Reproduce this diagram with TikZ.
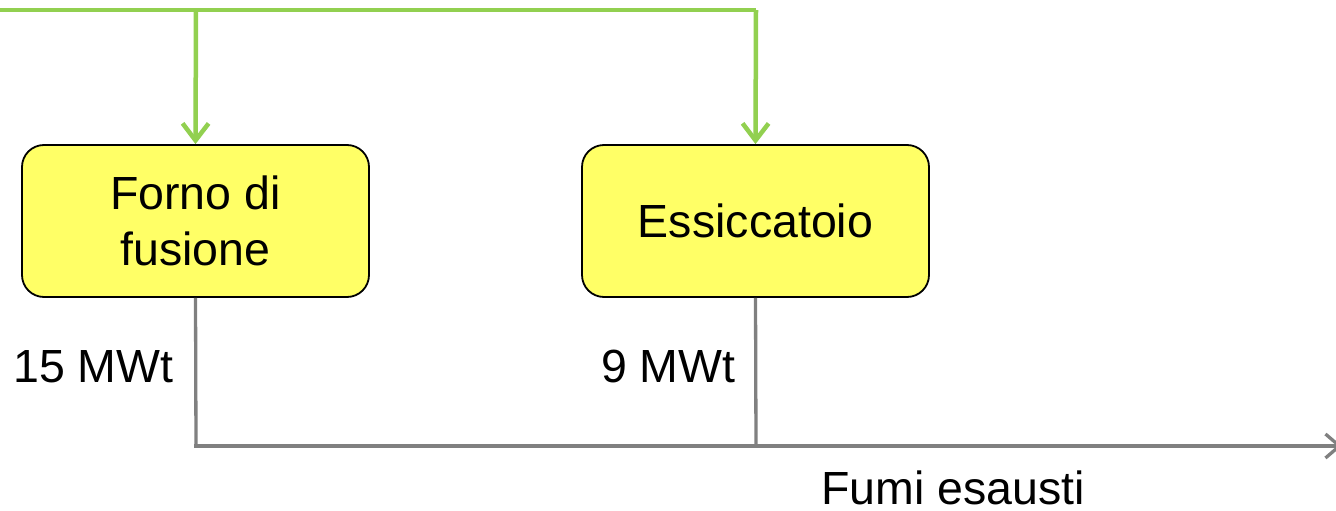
\documentclass[tikz,border=0pt]{standalone}
\usepackage{fontspec}
\setmainfont{Liberation Sans}
\usetikzlibrary{arrows.meta}
\definecolor{flowgreen}{HTML}{92D050}
\definecolor{boxyellow}{HTML}{FFFF66}
\definecolor{smokegray}{HTML}{808080}
\tikzset{
  unitbox/.style={draw=black, line width=1.8pt, fill=boxyellow, rounded corners=22pt,
    minimum width=347pt, minimum height=152pt, inner sep=0pt, align=center,
    font=\fontsize{46.5}{56}\selectfont},
  greenline/.style={draw=flowgreen, line width=4.5pt},
  greenarrow/.style={greenline, -{Straight Barb[length=17pt,width=26pt,line width=4.5pt]}},
  grayline/.style={draw=smokegray, line width=3.3pt},
  grayarrow/.style={grayline, -{Straight Barb[length=14pt,width=24pt,line width=3.3pt]}},
  lbl/.style={inner sep=0pt, anchor=base west, font=\fontsize{46.5}{56}\selectfont}
}
\begin{document}
\begin{tikzpicture}[x=1pt,y=-1pt]
\useasboundingbox (0,0) rectangle (1336,511);
\clip (0,0) rectangle (1336,511);
\node[unitbox] (forno) at (195.5,221) {Forno di\\fusione};
\node[unitbox] (essic) at (755.5,221) {Essiccatoio};
\coordinate (gstart) at (0,10);
\coordinate (gcorner) at (756,10);
\coordinate (gsplit) at (196,10);
\coordinate (hjoin1) at (196,446);
\coordinate (hjoin2) at (756,446);
\coordinate (hend) at (1342,446);
\draw[greenline] (gstart) -- (gcorner);
\draw[greenarrow] (gcorner) -- (essic.north);
\draw[greenarrow] (gsplit) -- (forno.north);
\draw[grayline] (forno.south) -- (hjoin1);
\draw[grayline] (essic.south) -- (hjoin2);
\draw[grayarrow] ([xshift=-1.65pt]hjoin1) -- (hend);
\node[lbl] (l15) at (13,382) {15 MWt};
\node[lbl] (l9) at (601,382) {9 MWt};
\node[lbl] (fumi) at (821,504) {Fumi esausti};
\end{tikzpicture}
\end{document}
